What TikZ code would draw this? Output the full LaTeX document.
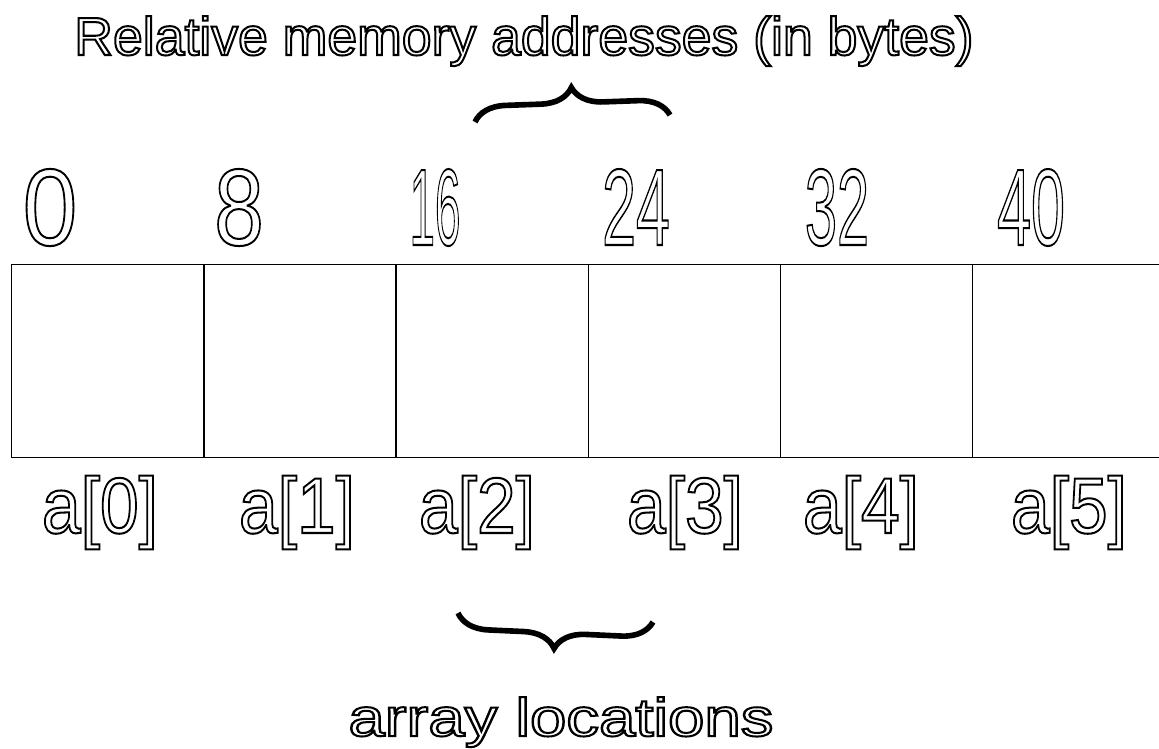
\documentclass[tikz,border=0pt]{standalone}
\usepackage{fontspec}
\setmainfont{Liberation Sans}
\usetikzlibrary{decorations.pathreplacing, positioning}
\newcommand{\hollow}[1]{\special{pdf:literal 1 Tr 1.15 w}#1\special{pdf:literal 0 Tr}}

\begin{document}
\begin{tikzpicture}[x=0.02cm, y=-0.02cm,
    cell/.style={draw, line width=0.8pt, minimum width=3.844cm, minimum height=3.86cm, anchor=north west, inner sep=0pt},
    addr/.style={anchor=base, inner sep=0pt, font=\fontsize{62}{70}\selectfont},
    idx/.style={anchor=base, inner sep=0pt, xscale=0.88, font=\fontsize{45}{50}\selectfont},
    bracebar/.style={decorate, decoration={brace, amplitude=0.62cm}, line width=3.2pt}]
    \useasboundingbox (0,0) rectangle (1159,748);
    % title and address labels
    \node[anchor=base, inner sep=0pt, font=\fontsize{30.5}{36}\selectfont] (title) at (524,55) {\hollow{Relative memory addresses (in bytes)}};
    \foreach \v/\px/\sx [count=\i from 0] in {0/50/0.9, 8/239/0.82, 16/435/0.42, 24/636/0.56, 32/837/0.53, 40/1031/0.56}
      \node[addr, xscale=\sx] (addr\i) at (\px,245) {\hollow{\v}};
    % the array cells
    \foreach \i in {0,...,5}
      \node[cell] (c\i) at (11+192.2*\i,264) {};
    % element names
    \foreach \px [count=\i from 0] in {100, 297, 477, 685, 861, 1069}
      \node[idx] (a\i) at (\px,533) {\hollow{a[\i]}};
    % braces
    \coordinate (tl) at (475,122);
    \coordinate (tr) at (670,115);
    \coordinate (bl) at (458,613);
    \coordinate (br) at (653,622);
    \draw[bracebar] (tl) -- (tr);
    \draw[bracebar] (br) -- (bl);
    \node[anchor=base, inner sep=0pt, xscale=1.22, font=\fontsize{30.5}{36}\selectfont] (loc) at (561,736) {\hollow{array locations}};
\end{tikzpicture}
\end{document}
